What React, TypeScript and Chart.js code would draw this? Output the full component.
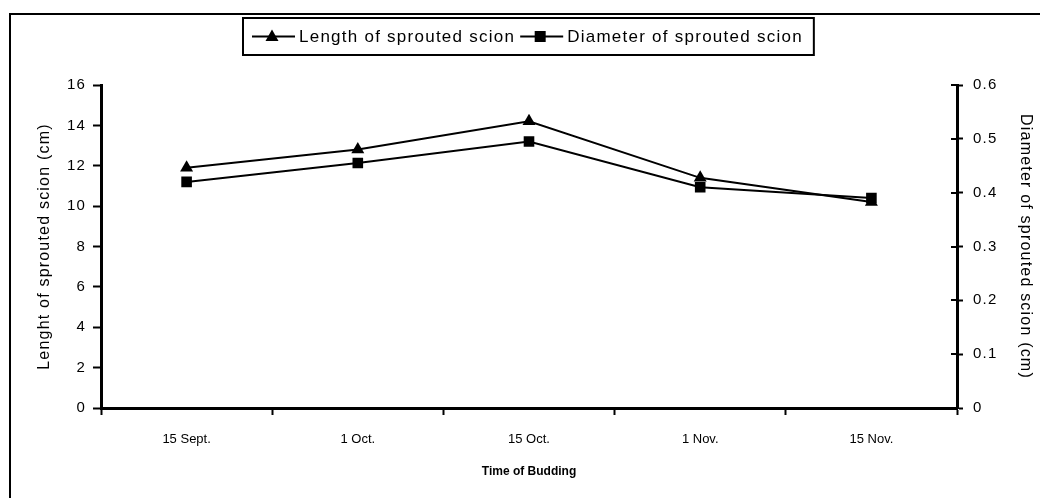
import React, { useEffect, useRef } from "react";
import { Chart, registerables } from "chart.js";

Chart.register(...registerables);

const categories = ["15 Sept.", "1 Oct.", "15 Oct.", "1 Nov.", "15 Nov."];
const lengthValues = [11.9, 12.8, 14.2, 11.4, 10.2];
const diameterValues = [0.42, 0.455, 0.495, 0.41, 0.39];
const lengthLabel = "Length of sprouted scion";
const diameterLabel = "Diameter of sprouted scion";
const leftTitle = "Lenght of sprouted scion (cm)";
const rightTitle = "Diameter of sprouted scion (cm)";
const xTitle = "Time of Budding";

const FONT = "'Liberation Sans', Arial, sans-serif";

function withSpacing(scale: any, spacing: string) {
  if (scale.__spaced) return;
  scale.__spaced = true;
  ["drawLabels", "drawTitle"].forEach((name) => {
    const orig = scale[name];
    scale[name] = function (...args: any[]) {
      const c = this.ctx;
      const prev = c.letterSpacing;
      c.letterSpacing = spacing;
      try {
        return orig.apply(this, args);
      } finally {
        c.letterSpacing = prev;
      }
    };
  });
}

const framePlugin = {
  id: "frame",
  beforeDraw(chart: any) {
    const ctx = chart.ctx;
    withSpacing(chart.scales.y, "1.2px");
    withSpacing(chart.scales.y1, "1.2px");
    ctx.save();
    ctx.fillStyle = "#ffffff";
    ctx.fillRect(0, 0, chart.width, chart.height);
    ctx.strokeStyle = "#000000";
    ctx.lineWidth = 2;
    ctx.beginPath();
    ctx.moveTo(10, chart.height + 5);
    ctx.lineTo(10, 14);
    ctx.lineTo(chart.width + 5, 14);
    ctx.stroke();
    ctx.restore();
  },
};

// inner half of the crossing tick marks on the right axis
const crossTicksPlugin = {
  id: "crossTicks",
  afterDraw(chart: any) {
    const s = chart.scales.y1;
    const ctx = chart.ctx;
    ctx.save();
    ctx.strokeStyle = "#000";
    ctx.lineWidth = 2;
    ctx.beginPath();
    s.ticks.forEach((_t: any, i: number) => {
      const y = Math.round(s.getPixelForTick(i));
      ctx.moveTo(s.left - 6, y);
      ctx.lineTo(s.left, y);
    });
    ctx.stroke();
    ctx.restore();
  },
};

function drawMarker(ctx: any, style: string, x: number, y: number) {
  ctx.beginPath();
  if (style === "triangle") {
    ctx.moveTo(x, y - 7);
    ctx.lineTo(x + 6.5, y + 4.5);
    ctx.lineTo(x - 6.5, y + 4.5);
    ctx.closePath();
  } else {
    ctx.rect(x - 5.5, y - 5.5, 11, 11);
  }
  ctx.fill();
}

const legendPlugin = {
  id: "boxLegend",
  afterDraw(chart: any) {
    const ctx = chart.ctx;
    ctx.save();
    ctx.font = `17px ${FONT}`;
    ctx.letterSpacing = "1.25px";
    ctx.fillStyle = "#000";
    ctx.strokeStyle = "#000";
    ctx.textBaseline = "middle";
    ctx.textAlign = "left";
    const boxL = 243;
    const boxT = 18;
    const boxB = 55;
    const cy = (boxT + boxB) / 2;
    let x = boxL + 9;
    chart.data.datasets.forEach((ds: any) => {
      ctx.lineWidth = 2;
      ctx.beginPath();
      ctx.moveTo(x, cy);
      ctx.lineTo(x + 43, cy);
      ctx.stroke();
      drawMarker(ctx, ds.pointStyle, x + 20, cy);
      ctx.fillText(ds.label, x + 47, cy + 1);
      x += 47 + ctx.measureText(ds.label).width + 5;
    });
    const boxR = x + 6;
    ctx.lineWidth = 2;
    ctx.strokeRect(boxL, boxT, boxR - boxL, boxB - boxT);
    ctx.restore();
  },
};

export default function App() {
  const ref = useRef<HTMLCanvasElement | null>(null);

  useEffect(() => {
    if (!ref.current) return;
    const chart = new Chart(ref.current, {
      type: "line",
      data: {
        labels: categories,
        datasets: [
          {
            label: lengthLabel,
            data: lengthValues,
            yAxisID: "y",
            borderColor: "#000",
            backgroundColor: "#000",
            borderWidth: 2,
            pointStyle: "triangle",
            pointRadius: 7.5,
            pointBorderWidth: 0,
            tension: 0,
          },
          {
            label: diameterLabel,
            data: diameterValues,
            yAxisID: "y1",
            borderColor: "#000",
            backgroundColor: "#000",
            borderWidth: 2,
            pointStyle: "rect",
            pointRadius: 7.5,
            pointBorderWidth: 0,
            tension: 0,
          },
        ],
      },
      options: {
        responsive: false,
        animation: false,
        events: [],
        layout: { padding: { top: 85, left: 0, right: 0, bottom: 0 } },
        plugins: {
          legend: { display: false },
          tooltip: { enabled: false },
        },
        scales: {
          x: {
            type: "category",
            offset: true,
            afterFit: (s: any) => {
              s.height = 90;
            },
            grid: {
              offset: true,
              drawOnChartArea: false,
              drawTicks: true,
              tickLength: 7,
              tickWidth: 2,
              color: "#000",
            },
            border: { display: true, color: "#000", width: 3 },
            ticks: {
              color: "#000",
              font: { family: FONT, size: 13 },
              padding: 17,
              maxRotation: 0,
            },
            title: {
              display: true,
              text: xTitle,
              color: "#000",
              font: { family: FONT, size: 12, weight: "bold" },
              padding: { top: 0, bottom: 19 },
            },
          },
          y: {
            position: "left",
            min: 0,
            max: 16,
            afterFit: (s: any) => {
              s.width = 101;
            },
            ticks: {
              stepSize: 2,
              color: "#000",
              font: { family: FONT, size: 15 },
              padding: 7,
            },
            grid: {
              drawOnChartArea: false,
              drawTicks: true,
              tickLength: 8,
              tickWidth: 2,
              color: "#000",
            },
            border: { display: true, color: "#000", width: 3 },
            title: {
              display: true,
              text: leftTitle,
              color: "#000",
              font: { family: FONT, size: 16 },
              padding: { top: 35, bottom: 0 },
            },
          },
          y1: {
            position: "right",
            min: 0,
            max: 0.6,
            afterFit: (s: any) => {
              s.width = 83;
            },
            ticks: {
              stepSize: 0.1,
              color: "#000",
              font: { family: FONT, size: 15 },
              padding: 10,
            },
            grid: {
              drawOnChartArea: false,
              drawTicks: true,
              tickLength: 6,
              tickWidth: 2,
              color: "#000",
            },
            border: { display: true, color: "#000", width: 3 },
            title: {
              display: true,
              text: rightTitle,
              color: "#000",
              font: { family: FONT, size: 16 },
              padding: { top: 5, bottom: 0 },
            },
          },
        },
      },
      plugins: [framePlugin, legendPlugin, crossTicksPlugin],
    } as any);
    return () => chart.destroy();
  }, []);

  return (
    <div style={{ position: "fixed", left: 0, top: 0, width: 1040, height: 498, background: "#fff" }}>
      <canvas ref={ref} width={1040} height={498} style={{ display: "block" }} />
    </div>
  );
}
